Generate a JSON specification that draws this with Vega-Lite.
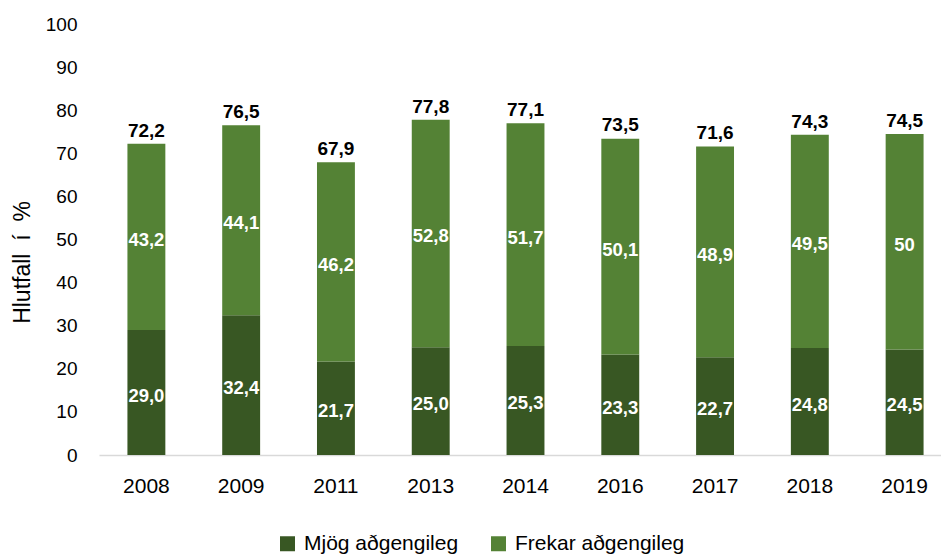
{
  "$schema": "https://vega.github.io/schema/vega-lite/v6.json",
  "width": 842,
  "height": 431,
  "autosize": {"type": "none"},
  "padding": {"left": 99, "top": 24, "right": 0, "bottom": 104},
  "background": "white",
  "config": {
    "view": {"stroke": null},
    "font": "Liberation Sans",
    "axis": {"labelColor": "#000000", "titleColor": "#000000", "labelFont": "Liberation Sans"},
    "legend": {"labelColor": "#000000", "labelFont": "Liberation Sans"}
  },
  "datasets": {
    "parts": [
      {"year": "2008", "category": "Mjög aðgengileg", "value": 29.0, "label": "29,0"},
      {"year": "2008", "category": "Frekar aðgengileg", "value": 43.2, "label": "43,2"},
      {"year": "2009", "category": "Mjög aðgengileg", "value": 32.4, "label": "32,4"},
      {"year": "2009", "category": "Frekar aðgengileg", "value": 44.1, "label": "44,1"},
      {"year": "2011", "category": "Mjög aðgengileg", "value": 21.7, "label": "21,7"},
      {"year": "2011", "category": "Frekar aðgengileg", "value": 46.2, "label": "46,2"},
      {"year": "2013", "category": "Mjög aðgengileg", "value": 25.0, "label": "25,0"},
      {"year": "2013", "category": "Frekar aðgengileg", "value": 52.8, "label": "52,8"},
      {"year": "2014", "category": "Mjög aðgengileg", "value": 25.3, "label": "25,3"},
      {"year": "2014", "category": "Frekar aðgengileg", "value": 51.7, "label": "51,7"},
      {"year": "2016", "category": "Mjög aðgengileg", "value": 23.3, "label": "23,3"},
      {"year": "2016", "category": "Frekar aðgengileg", "value": 50.1, "label": "50,1"},
      {"year": "2017", "category": "Mjög aðgengileg", "value": 22.7, "label": "22,7"},
      {"year": "2017", "category": "Frekar aðgengileg", "value": 48.9, "label": "48,9"},
      {"year": "2018", "category": "Mjög aðgengileg", "value": 24.8, "label": "24,8"},
      {"year": "2018", "category": "Frekar aðgengileg", "value": 49.5, "label": "49,5"},
      {"year": "2019", "category": "Mjög aðgengileg", "value": 24.5, "label": "24,5"},
      {"year": "2019", "category": "Frekar aðgengileg", "value": 50.0, "label": "50"}
    ],
    "totals": [
      {"year": "2008", "total": 72.2, "label": "72,2"},
      {"year": "2009", "total": 76.5, "label": "76,5"},
      {"year": "2011", "total": 67.9, "label": "67,9"},
      {"year": "2013", "total": 77.8, "label": "77,8"},
      {"year": "2014", "total": 77.1, "label": "77,1"},
      {"year": "2016", "total": 73.5, "label": "73,5"},
      {"year": "2017", "total": 71.6, "label": "71,6"},
      {"year": "2018", "total": 74.3, "label": "74,3"},
      {"year": "2019", "total": 74.5, "label": "74,5"}
    ]
  },
  "layer": [
    {
      "data": {"name": "parts"},
      "mark": {"type": "bar"},
      "encoding": {
        "x": {
          "field": "year", "type": "ordinal",
          "scale": {"range": [0, 853], "paddingInner": 0.6, "paddingOuter": 0.3},
          "axis": {"title": null, "labelAngle": 0, "labelFontSize": 21, "labelPadding": 20, "ticks": false, "tickSize": 0, "domainColor": "#d9d9d9", "domainWidth": 1.5}
        },
        "y": {
          "field": "value", "type": "quantitative", "stack": "zero",
          "scale": {"domain": [0, 100]},
          "title": "Hlutfall\u00a0\u00a0í\u00a0\u00a0%",
          "axis": {"values": [0, 10, 20, 30, 40, 50, 60, 70, 80, 90, 100], "grid": false, "domain": false, "ticks": false, "tickSize": 0, "labelFontSize": 19, "labelPadding": 22, "titleFontSize": 23, "titleFont": "Liberation Sans", "titleFontWeight": "normal", "titleX": -77, "titleY": 238, "titleAngle": -90, "titleAlign": "center", "titleBaseline": "middle"}
        },
        "color": {
          "field": "category", "type": "nominal",
          "scale": {"domain": ["Mjög aðgengileg", "Frekar aðgengileg"], "range": ["#385723", "#548235"]},
          "legend": {"title": null, "orient": "none", "legendX": 178, "legendY": 509, "direction": "horizontal", "symbolType": "square", "symbolSize": 225, "symbolStrokeWidth": 0, "labelFontSize": 21, "labelOffset": 6, "columnPadding": 29, "labelLimit": 0, "padding": 0}
        },
        "order": {"field": "category", "sort": "descending"}
      }
    },
    {
      "data": {"name": "parts"},
      "mark": {"type": "text", "color": "white", "fontWeight": "bold", "fontSize": 18.5, "baseline": "middle", "dy": 3},
      "encoding": {
        "x": {"field": "year", "type": "ordinal"},
        "y": {"field": "value", "type": "quantitative", "stack": "zero", "bandPosition": 0.5, "title": "Hlutfall\u00a0\u00a0í\u00a0\u00a0%"},
        "detail": {"field": "category"},
        "order": {"field": "category", "sort": "descending"},
        "text": {"field": "label"}
      }
    },
    {
      "data": {"name": "totals"},
      "mark": {"type": "text", "color": "black", "fontWeight": "bold", "fontSize": 19, "baseline": "alphabetic", "dy": -7},
      "encoding": {
        "x": {"field": "year", "type": "ordinal"},
        "y": {"field": "total", "type": "quantitative", "title": "Hlutfall\u00a0\u00a0í\u00a0\u00a0%"},
        "text": {"field": "label"}
      }
    }
  ]
}
